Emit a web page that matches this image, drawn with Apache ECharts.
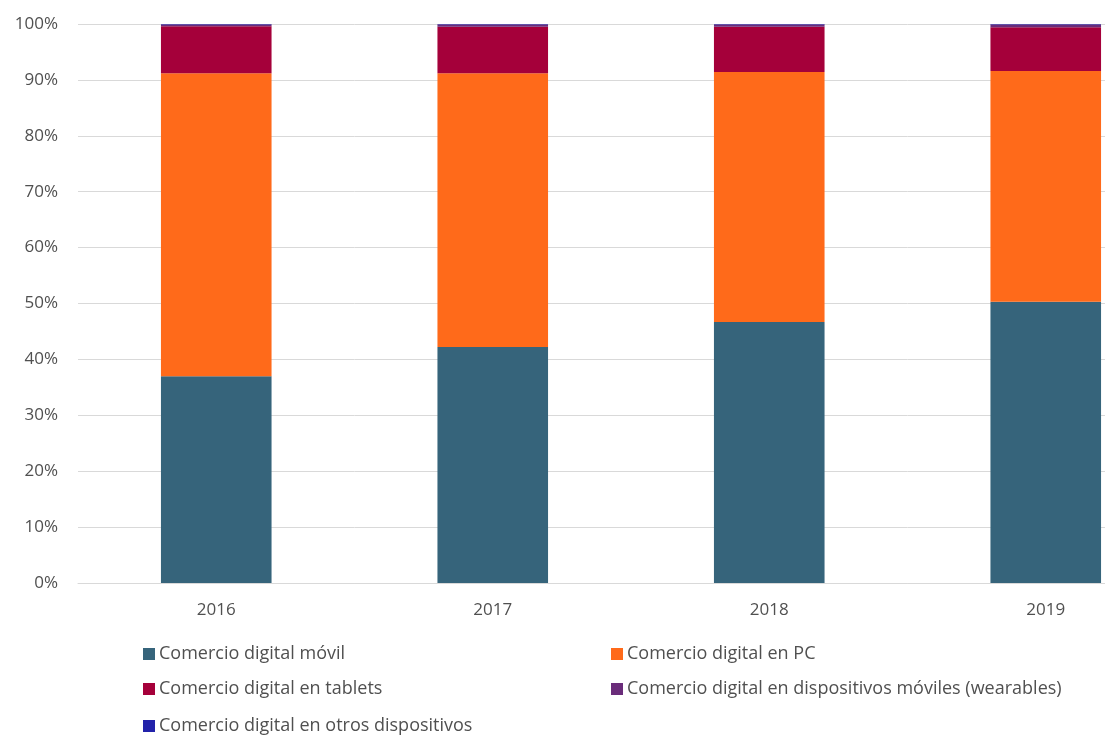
<!DOCTYPE html>
<html>
<head>
<meta charset="utf-8">
<script src="https://cdn.jsdelivr.net/npm/echarts@6/dist/echarts.min.js"></script>
<style>
  html, body { margin: 0; padding: 0; background: #ffffff; overflow: hidden; }
  /* the plot continues past the right edge of the window */
  #chart { width: 1184px; height: 738px; }
</style>
</head>
<body>
<div id="chart"></div>
<script>
// Share of digital commerce by device, per year (percent of total)
const years = ['2016', '2017', '2018', '2019'];
const movil = [37.0, 42.2, 46.7, 50.3];
const pc = [54.2, 49.0, 44.7, 41.3];
const tablets = [8.4, 8.3, 8.1, 7.8];
const wearables = [0.3, 0.4, 0.4, 0.5];
const otros = [0.1, 0.1, 0.1, 0.1];
const yTicks = [0, 10, 20, 30, 40, 50, 60, 70, 80, 90, 100];

const seriesNames = [
  'Comercio digital móvil',
  'Comercio digital en PC',
  'Comercio digital en tablets',
  'Comercio digital en dispositivos móviles (wearables)',
  'Comercio digital en otros dispositivos'
];
const seriesData = [movil, pc, tablets, wearables, otros];
const colors = ['#36647b', '#ff6a1a', '#a5003a', '#6a2c7a', '#2222aa'];

const FONT = '"Open Sans", "Liberation Sans", sans-serif';
const TEXT = '#505050';

// Legend laid out in two columns, three rows
const legendPos = [
  { left: 143, top: 645 },
  { left: 611, top: 645 },
  { left: 143, top: 680 },
  { left: 611, top: 680 },
  { left: 143, top: 717 }
];

const chart = echarts.init(document.getElementById('chart'));
chart.setOption({
  backgroundColor: '#ffffff',
  animation: false,
  color: colors,
  grid: { left: 78, top: 24, bottom: 155, right: 0, containLabel: false },
  legend: seriesNames.map((name, i) => ({
    data: [name],
    left: legendPos[i].left,
    top: legendPos[i].top,
    icon: 'rect',
    itemWidth: 12,
    itemHeight: 12,
    itemGap: 4,
    padding: 0,
    textStyle: { fontFamily: FONT, fontSize: 18, color: TEXT, padding: [0, 0, 0, -1] },
    selectedMode: false
  })),
  xAxis: {
    type: 'category',
    data: years,
    axisLine: { lineStyle: { color: '#d9d9d9' } },
    axisTick: { show: false },
    axisLabel: { fontFamily: FONT, fontSize: 17, color: TEXT, margin: 19 }
  },
  yAxis: {
    type: 'value',
    min: yTicks[0],
    max: yTicks[yTicks.length - 1],
    interval: 10,
    axisLine: { show: false },
    axisTick: { show: false },
    splitLine: { lineStyle: { color: '#d9d9d9' } },
    axisLabel: { fontFamily: FONT, fontSize: 17, color: TEXT, margin: 20, formatter: '{value}%' }
  },
  series: seriesNames.map((name, i) => ({
    name: name,
    type: 'bar',
    stack: 'total',
    barWidth: '40%',
    data: seriesData[i],
    itemStyle: { color: colors[i] }
  }))
});
</script>
</body>
</html>
